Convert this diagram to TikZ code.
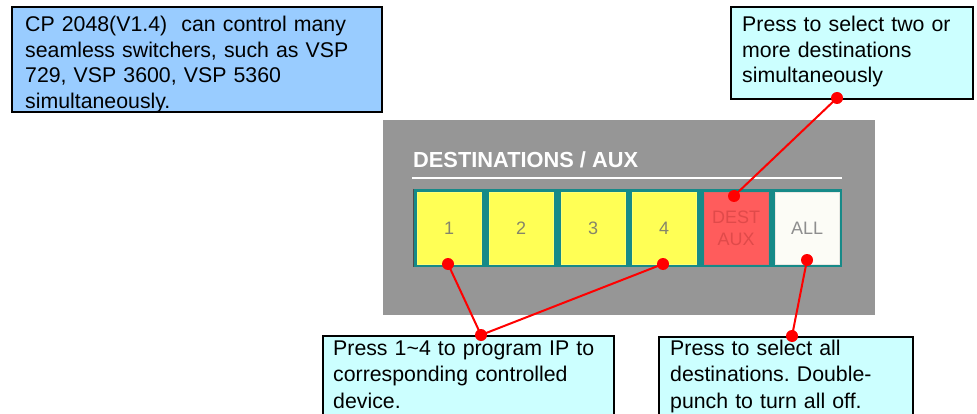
\documentclass[tikz,border=0pt]{standalone}
\usepackage{fontspec}
\setmainfont{Liberation Sans}
\frenchspacing
\definecolor{noteblue}{HTML}{99CCFF}
\definecolor{notecyan}{HTML}{CCFFFF}
\definecolor{panelgray}{HTML}{969696}
\definecolor{stripteal}{HTML}{168A88}
\definecolor{btnyellow}{HTML}{FFFF55}
\definecolor{btnred}{HTML}{FF5C5C}
\definecolor{btnwhite}{HTML}{FCFCF6}
\definecolor{numgray}{HTML}{85856A}
\definecolor{destred}{HTML}{E04A4A}
\definecolor{allgray}{HTML}{8E8E8E}
\begin{document}
\begin{tikzpicture}[x=1pt,y=-1pt,
  callbox/.style={draw=black,line width=2pt,anchor=north west,inner sep=0pt},
  calltext/.style={anchor=base west,inner sep=0pt,align=left,text width=#1,
    font=\fontsize{21.3}{25.5}\selectfont},
  btn/.style={anchor=north west,minimum width=64pt,minimum height=72pt,inner sep=0pt,
    font=\fontsize{18}{22}\selectfont,align=center},
  dot/.style={circle,fill=red,inner sep=0pt,minimum size=12pt},
  wire/.style={draw=red,line width=2pt}]
\useasboundingbox (0,0) rectangle (977,414);

% panel
\node[anchor=north west,fill=panelgray,minimum width=492pt,minimum height=195pt,inner sep=0pt] (panel) at (383,120) {};
\node[anchor=base west,inner sep=0pt,text=white,font=\fontsize{21.8}{24}\selectfont\bfseries] (title) at (413,168) {DESTINATIONS / AUX};
\draw[white,line width=2.5pt] (412,178) -- (842,178);
\node[anchor=north west,fill=stripteal,minimum width=429pt,minimum height=78pt,inner sep=0pt] (strip) at (413,189) {};
\draw[black!70,line width=1pt] (strip.north west) -- (strip.south west);

\node[btn,fill=btnyellow,draw=btnyellow!80!white,text=numgray] (b1) at (417,192) {1};
\node[btn,fill=btnyellow,draw=btnyellow!80!white,text=numgray] (b2) at (489,192) {2};
\node[btn,fill=btnyellow,draw=btnyellow!80!white,text=numgray] (b3) at (561,192) {3};
\node[btn,fill=btnyellow,draw=btnyellow!80!white,text=numgray] (b4) at (632,192) {4};
\node[btn,fill=btnred,draw=btnred!80!gray,text=destred] (b5) at (704,192) {DEST\\AUX};
\node[btn,fill=btnwhite,draw=btnwhite!85!gray,text=allgray] (b6) at (775,192) {ALL};

% notes
\node[callbox,fill=noteblue,minimum width=370pt,minimum height=105pt] (tlbox) at (11,6) {};
\node[calltext=355pt] (tltext) at (25,32) {CP 2048(V1.4)\ \ can control many\\seamless switchers, such as VSP\\729, VSP 3600, VSP 5360\\simultaneously.};

\node[callbox,fill=notecyan,minimum width=242pt,minimum height=92pt] (trbox) at (730,6) {};
\node[calltext=225pt] (trtext) at (742,32) {Press to select two or\\more destinations\\simultaneously};

\node[callbox,fill=notecyan,minimum width=291pt,minimum height=95pt] (blbox) at (322,335) {};
\node[calltext=275pt,font=\fontsize{21.3}{26.5}\selectfont] (bltext) at (333,355) {Press 1\textasciitilde 4 to program IP to\\corresponding controlled\\device.};

\node[callbox,fill=notecyan,minimum width=254pt,minimum height=95pt] (brbox) at (658,336) {};
\node[calltext=240pt,font=\fontsize{21.3}{26.5}\selectfont] (brtext) at (670,355) {Press to select all\\destinations. Double-\\punch to turn all off.};

% dots and wires
\node[dot] (d1) at (448,264) {};
\node[dot] (d4) at (663,264) {};
\node[dot] (d5) at (734,196) {};
\node[dot] (d6) at (807,260) {};
\node[dot] (dbl) at (481,335) {};
\node[dot] (dtr) at (837,98) {};
\node[dot] (dbr) at (792,336) {};
\draw[wire] (d1.center) -- (dbl.center);
\draw[wire] (d4.center) -- (dbl.center);
\draw[wire] (d5.center) -- (dtr.center);
\draw[wire] (d6.center) -- (dbr.center);
\end{tikzpicture}
\end{document}
